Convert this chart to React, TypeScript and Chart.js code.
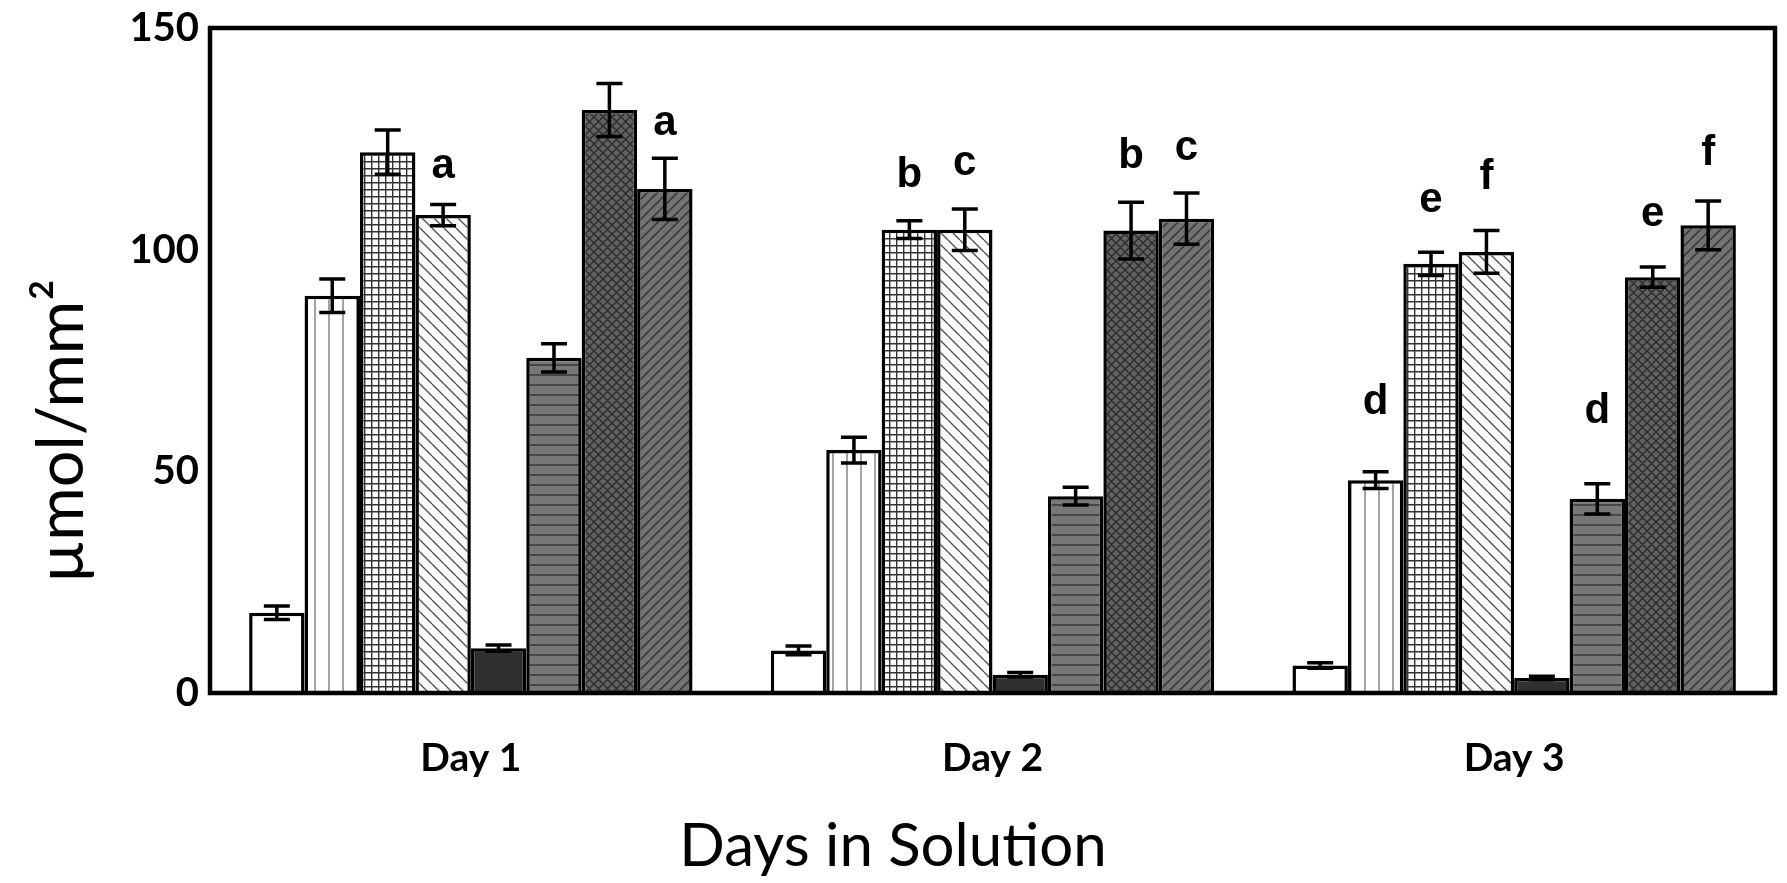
import React, { useEffect, useRef } from 'react';
import { Chart, registerables } from 'chart.js';

Chart.register(...registerables);

// ---------- data ----------
const categories = ['Day 1', 'Day 2', 'Day 3'];
const yTickValues = [0, 50, 100, 150];
const yTitle = 'µmol/mm²';
const xTitle = 'Days in Solution';

const series1 = [18.1, 9.6, 6.2];
const series2 = [89.6, 54.8, 48.0];
const series3 = [122.0, 104.5, 96.8];
const series4 = [107.8, 104.5, 99.5];
const series5 = [10.1, 4.1, 3.4];
const series6 = [75.6, 44.4, 43.8];
const series7 = [131.5, 104.3, 93.8];
const series8 = [113.7, 107.0, 105.5];

const errors1 = [1.5, 1.0, 0.6];
const errors2 = [3.8, 2.9, 1.9];
const errors3 = [5.0, 2.0, 2.6];
const errors4 = [2.4, 4.7, 4.8];
const errors5 = [0.7, 0.5, 0.4];
const errors6 = [3.2, 2.0, 3.4];
const errors7 = [6.0, 6.4, 2.3];
const errors8 = [6.9, 5.8, 5.5];

// significance letters and the value level at which each one sits
const letters1 = ['', '', ''];
const letters2 = ['', '', 'd'];
const letters3 = ['', 'b', 'e'];
const letters4 = ['a', 'c', 'f'];
const letters5 = ['', '', ''];
const letters6 = ['', '', 'd'];
const letters7 = ['', 'b', 'e'];
const letters8 = ['a', 'c', 'f'];

const letterLevels1 = [0, 0, 0];
const letterLevels2 = [0, 0, 65.5];
const letterLevels3 = [0, 116.8, 111.2];
const letterLevels4 = [118.8, 119.4, 116.2];
const letterLevels5 = [0, 0, 0];
const letterLevels6 = [0, 0, 63.5];
const letterLevels7 = [0, 121.0, 108.0];
const letterLevels8 = [128.5, 122.9, 121.8];

const allValues = [series1, series2, series3, series4, series5, series6, series7, series8];
const allErrors = [errors1, errors2, errors3, errors4, errors5, errors6, errors7, errors8];
const allLetters = [letters1, letters2, letters3, letters4, letters5, letters6, letters7, letters8];
const allLetterLevels = [
  letterLevels1, letterLevels2, letterLevels3, letterLevels4,
  letterLevels5, letterLevels6, letterLevels7, letterLevels8,
];

// ---------- patterns ----------
type Draw = (g: CanvasRenderingContext2D, s: number) => void;
function tile(ctx: CanvasRenderingContext2D, size: number, bg: string, draw: Draw): CanvasPattern | string {
  const c = document.createElement('canvas');
  c.width = size;
  c.height = size;
  const g = c.getContext('2d')!;
  g.fillStyle = bg;
  g.fillRect(0, 0, size, size);
  draw(g, size);
  return ctx.createPattern(c, 'repeat') || bg;
}

function makeFills(ctx: CanvasRenderingContext2D) {
  const vLines = tile(ctx, 14, '#ffffff', (g, s) => {
    g.strokeStyle = '#8c8c8c';
    g.lineWidth = 1.6;
    g.beginPath();
    g.moveTo(s / 2, 0);
    g.lineTo(s / 2, s);
    g.stroke();
  });
  const grid = tile(ctx, 7, '#ffffff', (g, s) => {
    g.strokeStyle = '#333333';
    g.lineWidth = 1.4;
    g.beginPath();
    g.moveTo(0, 0.7);
    g.lineTo(s, 0.7);
    g.moveTo(0.7, 0);
    g.lineTo(0.7, s);
    g.stroke();
  });
  const back = tile(ctx, 12, '#fbfbfb', (g, s) => {
    g.strokeStyle = '#555555';
    g.lineWidth = 1.4;
    g.beginPath();
    for (const k of [-1, 0, 1]) {
      g.moveTo(k * s, 0);
      g.lineTo(k * s + s, s);
    }
    g.stroke();
  });
  const hLines = tile(ctx, 10, '#777777', (g, s) => {
    g.strokeStyle = '#464646';
    g.lineWidth = 2;
    g.beginPath();
    g.moveTo(0, s / 2);
    g.lineTo(s, s / 2);
    g.stroke();
  });
  const cross = tile(ctx, 9, '#626262', (g, s) => {
    g.strokeStyle = '#2e2e2e';
    g.lineWidth = 1.5;
    g.beginPath();
    for (const k of [-1, 0, 1]) {
      g.moveTo(k * s, 0);
      g.lineTo(k * s + s, s);
      g.moveTo(k * s, s);
      g.lineTo(k * s + s, 0);
    }
    g.stroke();
  });
  const fwd = tile(ctx, 10, '#727272', (g, s) => {
    g.strokeStyle = '#3b3b3b';
    g.lineWidth = 1.6;
    g.beginPath();
    for (const k of [-1, 0, 1]) {
      g.moveTo(k * s, s);
      g.lineTo(k * s + s, 0);
    }
    g.stroke();
  });
  return ['#ffffff', vLines, grid, back, '#303030', hLines, cross, fwd];
}

// ---------- plugin: frame, error bars, letters, axis titles ----------
const extrasPlugin = {
  id: 'extras',
  afterDatasetsDraw(chart: any) {
    const { ctx } = chart;
    const y = chart.scales.y;
    ctx.save();
    ctx.strokeStyle = '#000';
    ctx.fillStyle = '#000';
    allValues.forEach((vals, i) => {
      const meta = chart.getDatasetMeta(i);
      meta.data.forEach((bar: any, j: number) => {
        const v = vals[j];
        const e = allErrors[i][j];
        const x = bar.x;
        const yt = y.getPixelForValue(v + e);
        const yb = y.getPixelForValue(v - e);
        const cap = 13;
        ctx.lineWidth = 3.5;
        ctx.beginPath();
        ctx.moveTo(x, yt);
        ctx.lineTo(x, yb);
        ctx.moveTo(x - cap, yt);
        ctx.lineTo(x + cap, yt);
        ctx.moveTo(x - cap, yb);
        ctx.lineTo(x + cap, yb);
        ctx.stroke();
        const letter = allLetters[i][j];
        if (letter) {
          ctx.font = 'bold 42px "Liberation Sans", Arial, sans-serif';
          ctx.textAlign = 'center';
          ctx.textBaseline = 'middle';
          ctx.fillText(letter, x, y.getPixelForValue(allLetterLevels[i][j]));
        }
      });
    });
    ctx.restore();
  },
  afterDraw(chart: any) {
    const { ctx, chartArea } = chart;
    ctx.save();
    ctx.strokeStyle = '#000';
    ctx.lineWidth = 4.5;
    ctx.strokeRect(chartArea.left, chartArea.top, chartArea.right - chartArea.left, chartArea.bottom - chartArea.top);
    ctx.fillStyle = '#000';
    ctx.textAlign = 'center';
    ctx.textBaseline = 'middle';
    ctx.font = '60px Lato, sans-serif';
    ctx.fillText(xTitle, 893, 847);
    ctx.translate(62, 431);
    ctx.rotate(-Math.PI / 2);
    ctx.font = '65px Lato, sans-serif';
    ctx.fillText(yTitle, 0, 0);
    ctx.restore();
  },
};

export default function App() {
  const canvasRef = useRef<HTMLCanvasElement | null>(null);

  useEffect(() => {
    const canvas = canvasRef.current;
    if (!canvas) return;
    const ctx = canvas.getContext('2d')!;
    const fills = makeFills(ctx);

    const chart = new Chart(canvas, {
      type: 'bar',
      data: {
        labels: categories,
        datasets: allValues.map((vals, i) => ({
          label: 'S' + (i + 1),
          data: vals,
          backgroundColor: fills[i] as any,
          borderColor: '#000000',
          borderWidth: 3.5,
          borderSkipped: 'bottom',
          barPercentage: 1,
          categoryPercentage: 0.85,
        })),
      },
      options: {
        animation: false,
        responsive: true,
        maintainAspectRatio: false,
        devicePixelRatio: 1,
        layout: { padding: { left: 0, right: 12, top: 18, bottom: 0 } },
        plugins: {
          legend: { display: false },
          tooltip: { enabled: false },
          title: { display: false },
        },
        scales: {
          x: {
            offset: true,
            grid: { display: false, drawTicks: false },
            border: { display: false },
            ticks: {
              color: '#000',
              padding: 42,
              font: { family: 'Lato', weight: 'bold', size: 39 },
            },
            title: { display: false },
            afterFit: (scale: any) => {
              scale.height = 190;
            },
          },
          y: {
            min: 0,
            max: 150,
            grid: { display: false, drawTicks: false },
            border: { display: false },
            afterBuildTicks: (scale: any) => {
              scale.ticks = yTickValues.map((v) => ({ value: v }));
            },
            ticks: {
              color: '#000',
              padding: 11,
              font: { family: 'Lato', weight: 'bold', size: 40, lineHeight: 0.85 },
            },
            afterFit: (scale: any) => {
              scale.width = 210;
            },
          },
        },
      },
      plugins: [extrasPlugin],
    });
    return () => chart.destroy();
  }, []);

  return (
    <div style={{ position: 'absolute', left: 0, top: 0, width: 1787, height: 883, background: '#fff' }}>
      <canvas ref={canvasRef} />
    </div>
  );
}
